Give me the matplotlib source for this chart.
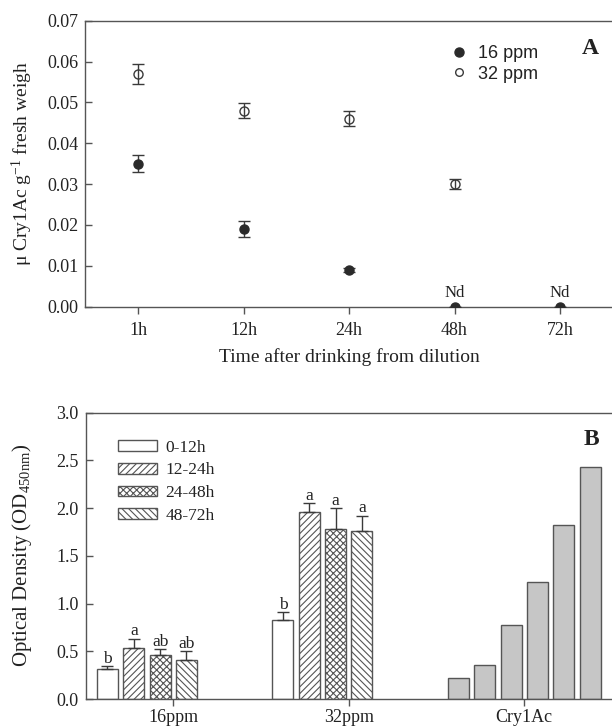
import matplotlib
matplotlib.use('Agg')
import matplotlib.pyplot as plt
from matplotlib.lines import Line2D
import numpy as np

plt.rcParams.update({
    'font.family': ['Liberation Serif', 'DejaVu Serif'],
    'mathtext.fontset': 'custom',
    'mathtext.rm': 'Liberation Serif',
    'mathtext.it': 'Liberation Serif:italic',
    'mathtext.bf': 'Liberation Serif:bold',
    'mathtext.default': 'regular',
    'hatch.linewidth': 0.8,
    'hatch.color': '#444444',
})

# ---------------- Panel A data ----------------
times = ['1h', '12h', '24h', '48h', '72h']
ppm16 = [0.035, 0.019, 0.009, 0.0, 0.0]
ppm16_err = [0.002, 0.002, 0.0005, 0.0, 0.0]
ppm32 = [0.057, 0.048, 0.046, 0.030]
ppm32_err = [0.0025, 0.0018, 0.0018, 0.0012]
nd_labels = ['', '', '', 'Nd', 'Nd']
series_labels = ['16 ppm', '32 ppm']

# ---------------- Panel B data ----------------
groups = ['16ppm', '32ppm', 'Cry1Ac']
periods = ['0-12h', '12-24h', '24-48h', '48-72h']
od16 = [0.31, 0.53, 0.46, 0.41]
od16_err = [0.035, 0.10, 0.06, 0.09]
od32 = [0.83, 1.96, 1.78, 1.76]
od32_err = [0.08, 0.09, 0.22, 0.16]
letters16 = ['b', 'a', 'ab', 'ab']
letters32 = ['b', 'a', 'a', 'a']
cry1ac = [0.22, 0.36, 0.78, 1.23, 1.82, 2.43]

SP = '#555555'
W, H = 612, 727
fig = plt.figure(figsize=(W / 100, H / 100), dpi=100)
axA = fig.add_axes([85.25 / W, 420.5 / H, 527.5 / W, 285.8 / H])
axB = fig.add_axes([85.5 / W, 28 / H, 526.5 / W, 286.3 / H])

for ax in (axA, axB):
    for s in ax.spines.values():
        s.set_color(SP)
        s.set_linewidth(1.0)
    ax.spines['right'].set_visible(False)
    ax.tick_params(axis='y', direction='in', length=5, width=1, color=SP,
                   labelsize=13, pad=5)
    ax.tick_params(axis='x', direction='out', length=5, width=1, color=SP,
                   labelsize=13, pad=6)
    ax.tick_params(axis='both', labelcolor='#222222')
axB.tick_params(axis='x', pad=2.5)

# ---------------- Panel A ----------------
x = np.arange(1, len(times) + 1)
axA.errorbar(x, ppm16, yerr=ppm16_err, fmt='o', ms=6.5, mfc='#2a2a2a', mec='#2a2a2a',
             ecolor='#3a3a3a', elinewidth=1, capsize=4, capthick=1, zorder=3)
axA.errorbar(x[:len(ppm32)], ppm32, yerr=ppm32_err, fmt='o', ms=6.5, mfc='none', mec='#3a3a3a',
             mew=1, ecolor='#3a3a3a', elinewidth=1, capsize=4, capthick=1, zorder=3)
for xi, yi, lab in zip(x, ppm16, nd_labels):
    if lab:
        axA.annotate(lab, (xi, yi), xytext=(0, 10), textcoords='offset points',
                     ha='center', va='center', fontsize=12, color='#222222')
axA.set_xlim(0.5, 5.5)
axA.set_ylim(0, 0.07)
axA.set_xticks(x)
axA.set_xticklabels(times)
yt = np.arange(0, 0.0701, 0.01)
axA.set_yticks(yt)
axA.set_yticklabels(['%.2f' % v for v in yt])
axA.text(0.5, -0.177, 'Time after drinking from dilution', transform=axA.transAxes,
         ha='center', va='center', fontsize=14, color='#222222')
axA.text(-0.12, 0.5, 'μ Cry1Ac g$^{-1}$ fresh weigh', transform=axA.transAxes,
         rotation=90, ha='center', va='center', fontsize=14, color='#222222')
axA.text(0.957, 0.901, 'A', transform=axA.transAxes, ha='center', va='center',
         fontsize=17, fontweight='bold', color='#222222')
handles = [Line2D([], [], marker='o', ls='none', ms=6.5, mfc='#2a2a2a', mec='#2a2a2a'),
           Line2D([], [], marker='o', ls='none', ms=5.5, mfc='none', mec='#3a3a3a', mew=1)]
legA = axA.legend(handles, series_labels, loc='upper left', bbox_to_anchor=(0.6915, 0.915),
                  frameon=False, borderpad=0, borderaxespad=0, handlelength=1.0,
                  handletextpad=0.55, labelspacing=0.2,
                  prop={'family': 'Liberation Sans', 'size': 13})
for t in legA.get_texts():
    t.set_color('#222222')

# ---------------- Panel B ----------------
offs = (np.arange(6) - 2.5) * 0.15
bw = 0.12
hatches = [None, '/////', 'xxxxx', '\\\\\\\\\\']
gx = np.arange(1, len(groups) + 1)
for i, p in enumerate(periods):
    xs = [gx[0] + offs[i], gx[1] + offs[i]]
    vals = [od16[i], od32[i]]
    errs = [od16_err[i], od32_err[i]]
    axB.bar(xs, vals, width=bw, color='white', edgecolor=SP, hatch=hatches[i], lw=1,
            label=p, yerr=[[0, 0], errs],
            error_kw=dict(ecolor='#3a3a3a', elinewidth=1, capsize=4.5, capthick=1), zorder=2)
    for xv, v, e, let in zip(xs, vals, errs, [letters16[i], letters32[i]]):
        axB.annotate(let, (xv, v + e), xytext=(0, 2.5), textcoords='offset points',
                     ha='center', va='baseline', fontsize=12.5, color='#222222')
axB.bar(gx[2] + offs, cry1ac, width=bw, color='#c6c6c6', edgecolor=SP, lw=1, zorder=2)
axB.set_xlim(0.5, 3.5)
axB.set_ylim(0, 3.0)
axB.set_xticks(gx)
axB.set_xticklabels(groups)
ytb = np.arange(0, 3.01, 0.5)
axB.set_yticks(ytb)
axB.set_yticklabels(['%.1f' % v for v in ytb])
axB.text(-0.12, 0.5, 'Optical Density (OD$_{450nm}$)', transform=axB.transAxes,
         rotation=90, ha='center', va='center', fontsize=15, color='#222222')
axB.text(0.960, 0.905, 'B', transform=axB.transAxes, ha='center', va='center',
         fontsize=17, fontweight='bold', color='#222222')
legB = axB.legend(loc='upper left', bbox_to_anchor=(0.062, 0.905), frameon=False,
                  borderpad=0, borderaxespad=0, handlelength=2.24, handleheight=0.57,
                  handletextpad=0.5, labelspacing=0.38, fontsize=12.5)
for t in legB.get_texts():
    t.set_color('#222222')

fig.savefig('out.png', dpi=100)
